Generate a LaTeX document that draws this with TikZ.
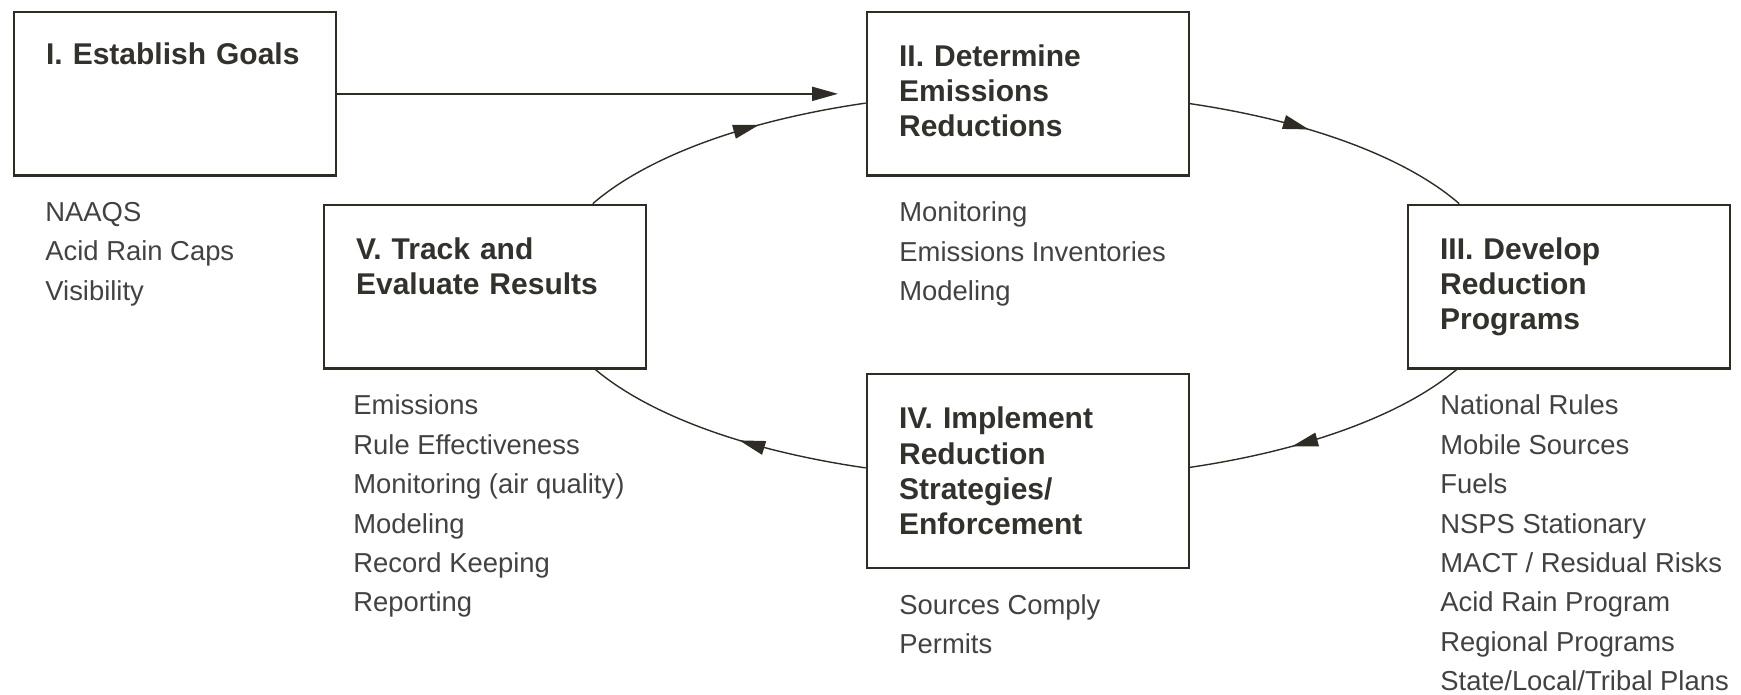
\documentclass[tikz,border=0pt]{standalone}
\usepackage{fontspec}
\setmainfont{Liberation Sans}
\usetikzlibrary{arrows.meta,decorations.markings}
\definecolor{inkline}{RGB}{46,44,36}
\definecolor{inktitle}{RGB}{50,49,44}
\definecolor{inklist}{RGB}{66,66,64}
\tikzset{
    stage/.style={draw=inkline, line width=1.1pt, anchor=north west, align=left,
        text width=129pt, inner xsep=16pt, inner ysep=0pt, minimum height=81.75pt,
        text=inktitle, font=\bfseries\fontsize{15}{17.7}\selectfont},
    items/.style={anchor=north west, align=left, inner sep=0pt, text=inklist,
        font=\fontsize{13.7}{19.7}\selectfont},
    flow/.style={inkline, line width=1pt, -{Triangle[length=13pt,width=7pt]}},
    orbit/.style={inkline, line width=0.7pt, postaction={decorate},
        decoration={markings, mark=at position #1 with {\arrow{Triangle[length=13pt,width=7pt]}}}},
}
\begin{document}
\begin{tikzpicture}[x=0.5pt, y=0.5pt]
    \useasboundingbox (0,0) rectangle (1741,-695);
    \node[stage] (goals) at (13,-11) {I. Establish Goals\\\strut\\\strut};
    \node[stage] (determine) at (866,-11) {II. Determine\\Emissions\\Reductions\vphantom{g}};
    \node[stage] (develop) at (1407,-204) {III. Develop\\Reduction\\Programs};
    \node[stage, minimum height=97pt] (implement) at (866,-373) {IV. Implement\\Reduction\\Strategies/\\Enforcement};
    \node[stage] (track) at (323,-204) {V. Track and\\Evaluate Results\\\vphantom{g}};

    \node[items] (goals-list) at ([shift={(32,-25)}]goals.south west) {NAAQS\\Acid Rain Caps\\Visibility};
    \node[items] (determine-list) at ([shift={(33,-25)}]determine.south west) {Monitoring\\Emissions Inventories\\Modeling};
    \node[items] (develop-list) at ([shift={(33,-25)}]develop.south west) {National Rules\\Mobile Sources\\Fuels\\NSPS Stationary\\MACT / Residual Risks\\Acid Rain Program\\Regional Programs\\State/Local/Tribal Plans};
    \node[items] (implement-list) at ([shift={(33,-25)}]implement.south west) {Sources Comply\\Permits};
    \node[items] (track-list) at ([shift={(30,-25)}]track.south west) {Emissions\\Rule Effectiveness\\Monitoring (air quality)\\Modeling\\Record Keeping\\Reporting};

    \coordinate (hub) at (1026,-285.5);
    \coordinate (track-out) at ([shift={(155:239pt and 96.8pt)}]hub);
    \coordinate (determine-out) at ([shift={(70:239pt and 96.8pt)}]hub);
    \coordinate (develop-out) at ([shift={(-25:239pt and 96.8pt)}]hub);
    \coordinate (implement-out) at ([shift={(-109.6:239pt and 96.8pt)}]hub);

    \draw[flow, shorten >=14pt] (goals.east) -- (determine.west);
    \draw[orbit=0.63] (track-out) arc[start angle=155, end angle=109.6, x radius=239pt, y radius=96.8pt];
    \draw[orbit=0.42] (determine-out) arc[start angle=70, end angle=25, x radius=239pt, y radius=96.8pt];
    \draw[orbit=0.64] (develop-out) arc[start angle=-25, end angle=-70, x radius=239pt, y radius=96.8pt];
    \draw[orbit=0.44] (implement-out) arc[start angle=-109.6, end angle=-155, x radius=239pt, y radius=96.8pt];
\end{tikzpicture}
\end{document}
